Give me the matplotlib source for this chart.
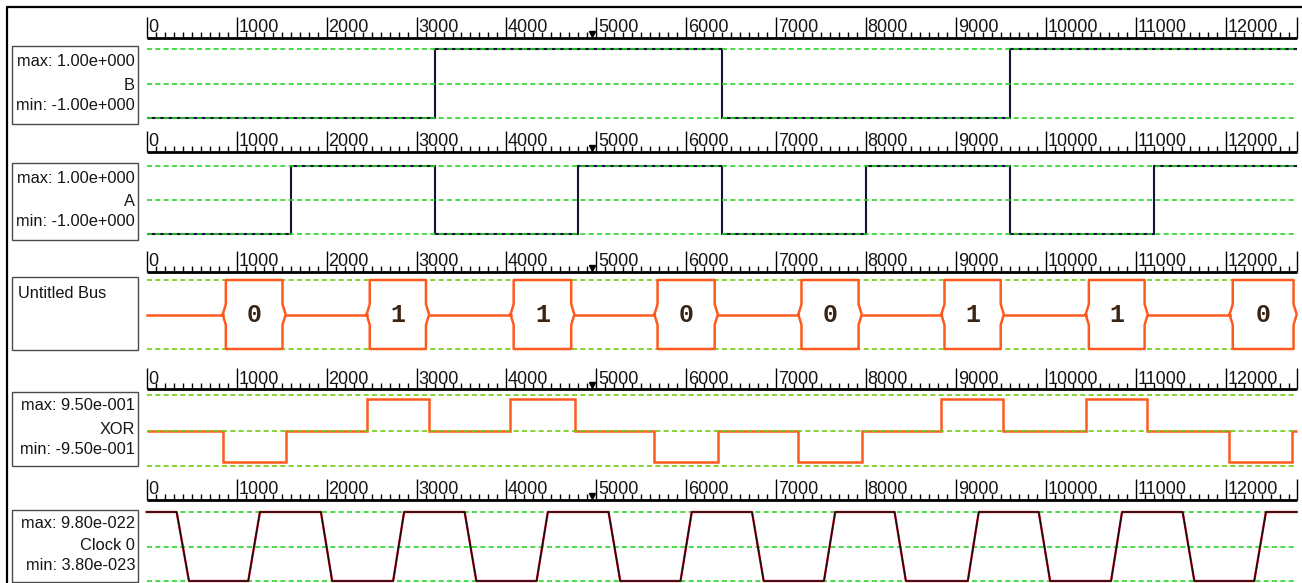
import matplotlib
matplotlib.use("Agg")
import matplotlib.pyplot as plt
from matplotlib.patches import Rectangle
import numpy as np

# ---------------- data ----------------
T_END = 12786
ruler_labels = ["0", "1000", "2000", "3000", "4000", "5000", "6000",
                "7000", "8000", "9000", "10000", "11000", "12000"]
ruler_major = [0, 1000, 2000, 3000, 4000, 5000, 6000, 7000, 8000,
               9000, 10000, 11000, 12000]
cursor_t = 4950

# B signal
B_edges = [3200, 6400, 9600]
B_levels = [-1, 1, -1, 1]
# A signal
A_edges = [1600, 3200, 4800, 6400, 8000, 9600, 11200]
A_levels = [-1, 1, -1, 1, -1, 1, -1, 1]

# Untitled Bus
bus_start = [845, 2445, 4045, 5645, 7245, 8835, 10440, 12040]
bus_end = [1545, 3140, 4755, 6350, 7950, 9530, 11130, 12786]
bus_values = ["0", "1", "1", "0", "0", "1", "1", "0"]

# XOR
xor_on = [844, 2444, 4044, 5644, 7244, 8833, 10444, 12037]
xor_off = [1544, 3137, 4759, 6352, 7952, 9526, 11126, 12737]
xor_level = [-0.95, 0.95, 0.95, -0.95, -0.95, 0.95, 0.95, -0.95]

# Clock 0
clk_hi, clk_lo = 9.80e-22, 3.80e-23
clk_fall_start = [333, 1937, 3535, 5135, 6730, 8315, 9918, 11518]
clk_fall_end = [470, 2062, 3665, 5265, 6860, 8441, 10044, 11648]
clk_rise_start = [1129, 2740, 4335, 5935, 7530, 9129, 10722, 12314]
clk_rise_end = [1259, 2862, 4460, 6060, 7655, 9251, 10844, 12444]

labels = [
    ("max: 1.00e+000", "B", "min: -1.00e+000"),
    ("max: 1.00e+000", "A", "min: -1.00e+000"),
    None,
    ("max: 9.50e-001", "XOR", "min: -9.50e-001"),
    ("max: 9.80e-022", "Clock 0", "min: 3.80e-023"),
]

# ---------------- layout (pixels) ----------------
W, H = 1302, 583
X0, X1 = 146.7, 1296.7
ruler_y = [38, 152, 272, 389, 500]
green_top = [49, 166, 280, 395, 512]
green_bot = [118, 234, 349, 466, 581]
box_top = [46, 163, 277, 392, 510]
box_bot = [124, 240, 350, 466, 582]

FONT = "Liberation Sans"
NAVY = "#14143a"
ORANGE = "#ff5a1e"
GREEN = "#2bd42b"
YGREEN = "#6fcc10"
TXT = "#151515"

fig = plt.figure(figsize=(W / 100, H / 100), dpi=100)


def add_px(l, t, r, b):
    return fig.add_axes([l / W, 1 - b / H, (r - l) / W, (b - t) / H])


bg = fig.add_axes([0, 0, 1, 1])
bg.set_xlim(0, W)
bg.set_ylim(H, 0)
bg.axis("off")
bg.plot([7, 7, W], [H, 7, 7], color="black", lw=1.6, solid_capstyle="butt")

# label boxes
for i in range(5):
    bg.add_patch(Rectangle((12, box_top[i]), 126, box_bot[i] - box_top[i],
                           fill=False, ec="#4a4a4a", lw=1.0))
    c = (box_top[i] + box_bot[i]) / 2
    if labels[i] is None:
        bg.text(18, box_top[i] + 16, "Untitled Bus", ha="left", va="center",
                fontsize=11.8, family=FONT, color=TXT)
    else:
        top, name, bot = labels[i]
        bg.text(135, c - 23, top, ha="right", va="center", fontsize=11.8,
                family=FONT, color=TXT)
        bg.text(135, c, name, ha="right", va="center", fontsize=11.8,
                family=FONT, color=TXT)
        bg.text(135, c + 20, bot, ha="right", va="center", fontsize=11.8,
                family=FONT, color=TXT)

# rulers
minor_ticks = [t for t in range(100, 12800, 100) if t % 1000 != 0]
u_per_px = T_END / (X1 - X0)
for i in range(5):
    ly = ruler_y[i]
    rax = add_px(X0, ly - 24, X1, ly + 2)
    rax.set_xlim(0, T_END)
    rax.set_ylim(-2, 24)
    rax.axis("off")
    rax.hlines(0, 0, T_END, color="black", lw=2.0, clip_on=False)
    rax.vlines(ruler_major + [T_END], 0, 21, color="black", lw=1.0, clip_on=False)
    rax.vlines(minor_ticks, 0, 6, color="black", lw=1.0, clip_on=False)
    for t, lab in zip(ruler_major, ruler_labels):
        rax.text(t + 1.5 * u_per_px, 5.5, lab, ha="left", va="baseline",
                 fontsize=13, family=FONT, color=TXT, clip_on=False)
    rax.plot([cursor_t], [4], marker="v", color="black", markersize=4.5,
             clip_on=False)


def signal_axes(i, lo, hi, gcolor, mid=True):
    ax = add_px(X0, green_top[i], X1, green_bot[i])
    ax.set_xlim(0, T_END)
    ax.set_ylim(lo, hi)
    ax.axis("off")
    levels = [hi, (hi + lo) / 2, lo] if mid else [hi, lo]
    for v in levels:
        ax.axhline(v, color=gcolor, lw=1.2, ls=(0, (3, 2)), clip_on=False)
    return ax


# Panel 1: B
ax = signal_axes(0, -1, 1, GREEN)
ax.stairs(B_levels, [0] + B_edges + [T_END], baseline=None, color=NAVY,
          lw=1.5, clip_on=False)

# Panel 2: A
ax = signal_axes(1, -1, 1, GREEN)
ax.stairs(A_levels, [0] + A_edges + [T_END], baseline=None, color=NAVY,
          lw=1.5, clip_on=False)

# Panel 3: Bus
ax = signal_axes(2, -1, 1, YGREEN, mid=False)
d = 35
prev = 0
for s, e, v in zip(bus_start, bus_end, bus_values):
    ax.plot([prev, s], [0, 0], color=ORANGE, lw=1.8, clip_on=False)
    xs = [s, s + d, s + d, e - d, e - d, e, e - d, e - d, s + d, s + d, s]
    ys = [0, 0.3, 1, 1, 0.3, 0, -0.3, -1, -1, -0.3, 0]
    ax.plot(xs, ys, color=ORANGE, lw=1.8, clip_on=False)
    ax.text((s + e) / 2, 0, v, ha="center", va="center",
            family="Liberation Mono", fontsize=18, fontweight="bold",
            color="#3a2414")
    prev = e

# Panel 4: XOR
ax = signal_axes(3, -1.06, 1.06, YGREEN)
xor_edges = [0]
xor_vals = []
for on, off, lv in zip(xor_on, xor_off, xor_level):
    xor_vals += [0, lv]
    xor_edges += [on, off]
xor_vals.append(0)
xor_edges.append(T_END)
ax.stairs(xor_vals, xor_edges, baseline=None, color=ORANGE, lw=1.8,
          clip_on=False)

# Panel 5: Clock
ax = signal_axes(4, clk_lo, clk_hi, GREEN)
ct = [0]
cv = [clk_hi]
for fs, fe, rs, re in zip(clk_fall_start, clk_fall_end, clk_rise_start,
                          clk_rise_end):
    ct += [fs, fe, rs, re]
    cv += [clk_hi, clk_lo, clk_lo, clk_hi]
ct.append(T_END)
cv.append(clk_hi)
ax.plot(ct, cv, color="#e0203c", lw=1.7, clip_on=False)
ax.plot(ct, cv, color="#1a0a0a", lw=1.1, clip_on=False)

fig.savefig("out.png", dpi=100)
